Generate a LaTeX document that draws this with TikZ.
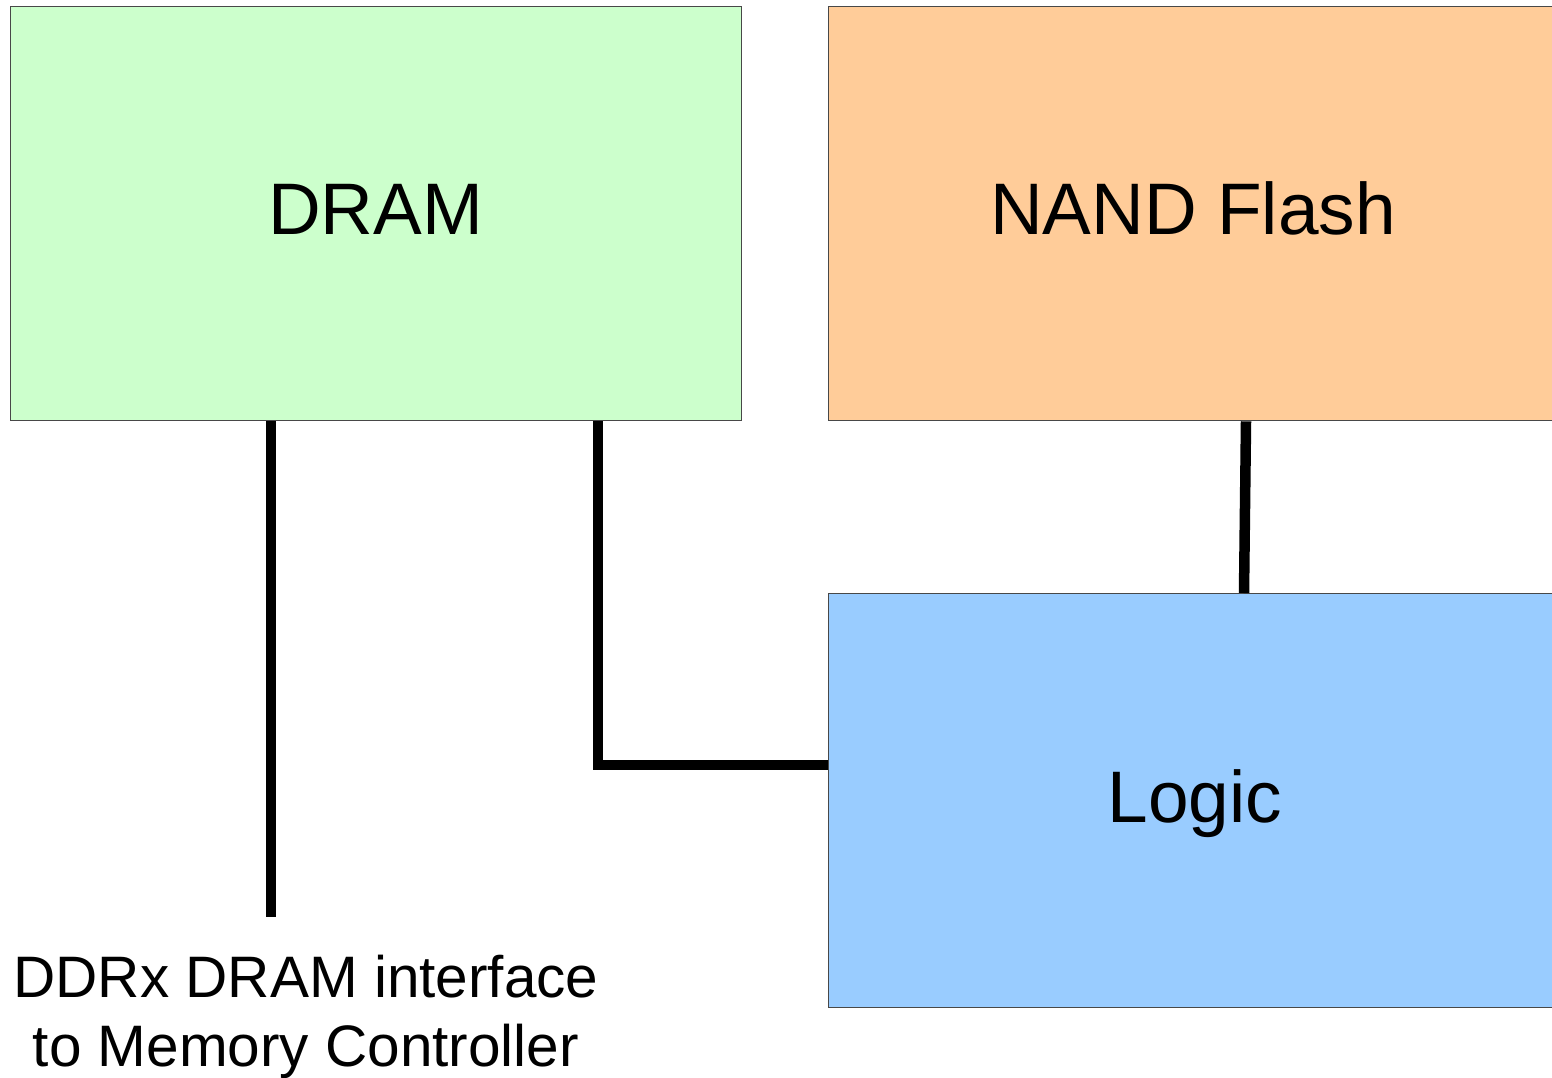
\documentclass[tikz,border=0pt]{standalone}
\usepackage{fontspec}
\setmainfont{Liberation Sans}
\definecolor{dramfill}{HTML}{CCFFCC}
\definecolor{nandfill}{HTML}{FFCC99}
\definecolor{logicfill}{HTML}{99CCFF}
\definecolor{boxline}{HTML}{484848}
\begin{document}
\begin{tikzpicture}[x=1pt,y=-1pt,
  block/.style={draw=boxline, line width=1.3pt, anchor=north west, inner sep=0pt},
  blocklabel/.style={font=\fontsize{73}{80}\selectfont, anchor=base},
  wire/.style={line width=10.5pt, line cap=butt, line join=miter}]
  \clip (0,0) rectangle (1552,1078);
  \useasboundingbox (0,0) rectangle (1552,1078);

  % memory and logic blocks
  \node[block, fill=dramfill, minimum width=731pt, minimum height=414pt] (dram) at (10,6) {};
  \node[block, fill=nandfill, minimum width=730pt, minimum height=414pt] (nand) at (828,6) {};
  \node[block, fill=logicfill, minimum width=730pt, minimum height=414pt] (logic) at (828,593) {};

  % block labels
  \node[blocklabel] (dramtxt) at (375.5,234) {DRAM};
  \node[blocklabel] (nandtxt) at (1193,234) {NAND Flash};
  \node[blocklabel] (logictxt) at (1195,822) {Logic};

  % external interface
  \coordinate (ext) at (271,917);
  \node[font=\fontsize{58.5}{69}\selectfont, align=center, anchor=base, inner sep=0pt] (iface) at (306,1066)
    {DDRx DRAM interface\\to Memory Controller};

  % connections
  \draw[wire] (dram.south -| ext) -- (ext);
  \draw[wire] (dram.south -| 598,0) |- (logic.west |- 0,765);
  \draw[wire] (nand.south -| 1246,0) -- (logic.north -| 1244,0);
\end{tikzpicture}
\end{document}
